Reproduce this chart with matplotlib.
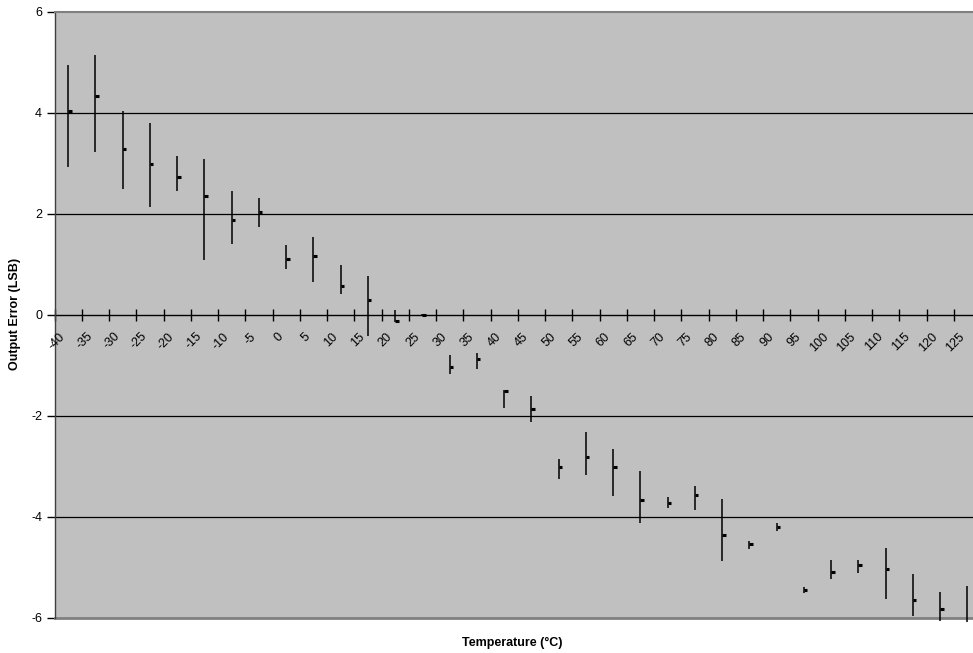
import matplotlib
matplotlib.use("Agg")
import matplotlib.pyplot as plt
import numpy as np

plt.rcParams['font.family'] = ['Liberation Sans', 'DejaVu Sans']

temps = [str(t) for t in range(-40, 130, 5)]
high = [4.94, 5.14, 4.03, 3.79, 3.14, 3.08, 2.45, 2.31, 1.38, 1.54, 0.99, 0.77,
        0.08, 0.01, -0.81, -0.77, -1.49, -1.61, -2.86, -2.32, -2.66, -3.09, -3.62,
        -3.40, -3.65, -4.48, -4.13, -5.40, -4.86, -4.86, -4.62, -5.14, -5.50, -5.38]
low = [2.92, 3.22, 2.48, 2.13, 2.45, 1.08, 1.39, 1.73, 0.90, 0.65, 0.41, -0.42,
       -0.15, -0.01, -1.18, -1.08, -1.85, -2.12, -3.25, -3.17, -3.60, -4.12, -3.84,
       -3.87, -4.88, -4.64, -4.29, -5.52, -5.23, -5.11, -5.64, -5.97, -6.07, -6.08]
mean = [4.02, 4.33, 3.28, 2.98, 2.72, 2.35, 1.87, 2.02, 1.10, 1.16, 0.57, 0.28,
        -0.13, 0.00, -1.03, -0.89, -1.51, -1.87, -3.01, -2.83, -3.02, -3.68, -3.73,
        -3.58, -4.37, -4.55, -4.20, -5.46, -5.09, -4.97, -5.03, -5.65, -5.84, -6.20]

W, H = 973, 653
fig = plt.figure(figsize=(W / 100, H / 100), dpi=100)
left, right, top, bottom = 54.5, 981, 11.5, 617.5
ax = fig.add_axes([left / W, 1 - bottom / H, (right - left) / W, (bottom - top) / H])
ax.set_facecolor('#C0C0C0')

n = len(temps)
x = np.arange(n)
ax.set_xlim(-0.5, n - 0.5)
ax.set_ylim(-6, 6)

# gridlines
for yv in [-4, -2, 2, 4]:
    ax.axhline(yv, color='black', lw=0.9, zorder=1)

# high-low bars
ax.vlines(x, low, high, color='black', lw=1.1, zorder=3, clip_on=False)
# close ticks
ax.hlines(mean, x, x + 0.13, color='black', lw=2.2, zorder=4)

# spines
ax.spines['bottom'].set_position(('data', 0))
ax.spines['bottom'].set_color('black')
ax.spines['bottom'].set_linewidth(1.0)
ax.spines['bottom'].set_zorder(2)
ax.spines['top'].set_color('#808080')
ax.spines['top'].set_linewidth(1.5)
ax.spines['right'].set_visible(False)
ax.spines['left'].set_color('#404040')
ax.spines['left'].set_linewidth(1.0)
ax.axhline(-6, color='#808080', lw=2, clip_on=False, zorder=2)

ax.set_yticks(np.arange(-6, 7, 2))
ax.set_yticklabels([str(v) for v in range(-6, 7, 2)])
ax.tick_params(axis='y', direction='out', length=6, width=1, labelsize=9, pad=3)

ax.set_xticks(np.arange(-0.5, n, 1.0))
ax.set_xticklabels([])
ax.tick_params(axis='x', direction='inout', length=8, width=1, color='black')

for i, t in enumerate(temps):
    ax.annotate(t, xy=(i, 0), xytext=(-6.5, -11.5), textcoords='offset points',
                ha='right', va='top', rotation=45, rotation_mode='anchor',
                fontsize=9)

fig.text(15 / W, 1 - 314 / H, 'Output Error (LSB)', rotation=90, ha='center',
         va='center', fontsize=9, fontweight='bold')
fig.text(512 / W, 1 - 643 / H, 'Temperature (°C)', ha='center', va='center',
         fontsize=9, fontweight='bold')

fig.savefig('out.png', dpi=100)
